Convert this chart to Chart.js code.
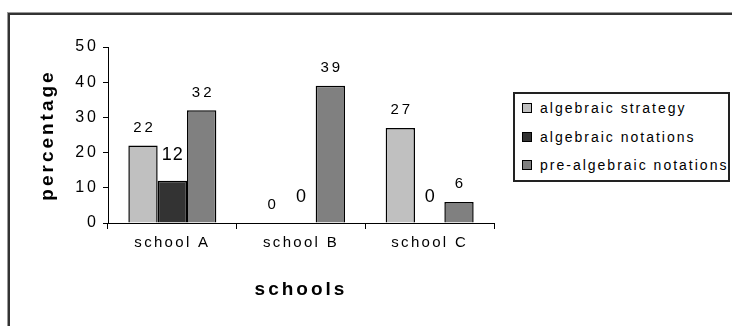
<!DOCTYPE html>
<html>
<head>
<meta charset="utf-8">
<script src="https://cdn.jsdelivr.net/npm/chart.js@4"></script>
<style>
  body { margin: 0; background: #fff; }
  #wrap { position: relative; width: 732px; height: 326px; overflow: hidden; background: #fff; }
  #frame {
    position: absolute; left: 8px; top: 13px; width: 800px; height: 400px;
    border: 2px solid #333; box-shadow: -1px -1px 0 #999;
  }
  canvas { position: absolute; left: 0; top: 0; }
  #legend {
    position: absolute; left: 513px; top: 92px; width: 213px; height: 86px;
    border: 2px solid #222; background: #fff;
    font-family: 'Liberation Sans', Arial, sans-serif; font-size: 14px;
    letter-spacing: 2px; color: #000;
  }
  #legend .item { height: 28.5px; display: flex; align-items: center; padding-left: 7px; white-space: nowrap; }
  #legend .box { width: 8px; height: 8px; border: 1px solid #000; margin-right: 8px; flex: none; }
</style>
</head>
<body>
<div id="wrap">
  <div id="frame"></div>
  <canvas id="chart" width="732" height="326"></canvas>
  <div id="legend"></div>
</div>
<script>
  // ---- data ----
  const schools = ['school A', 'school B', 'school C'];
  const seriesNames = ['algebraic strategy', 'algebraic notations', 'pre-algebraic notations'];
  const strategy = [22, 0, 27];
  const notations = [12, 0, 0];
  const preAlgebraic = [32, 39, 6];
  const yTicks = [0, 10, 20, 30, 40, 50];

  const colors = ['#c0c0c0', '#333333', '#808080'];
  const values = [strategy, notations, preAlgebraic];

  Chart.defaults.font.family = "'Liberation Sans', Arial, sans-serif";
  Chart.defaults.color = '#000';

  // value labels above the bars (the middle series sits a bit higher and larger, like the original)
  const labelStyle = [
    { size: 15, offset: 18, spacing: 3 },
    { size: 18, offset: 26, spacing: 1 },
    { size: 15, offset: 18, spacing: 3 }
  ];

  const valueLabels = {
    id: 'valueLabels',
    beforeDraw(chart) {
      chart.ctx.letterSpacing = '3px';   // titles + y ticks
    },
    afterDatasetsDraw(chart) {
      const ctx = chart.ctx;
      chart.data.datasets.forEach((ds, i) => {
        const st = labelStyle[i];
        chart.getDatasetMeta(i).data.forEach((bar, j) => {
          ctx.save();
          ctx.font = st.size + "px 'Liberation Sans', Arial, sans-serif";
          ctx.letterSpacing = st.spacing + 'px';
          ctx.fillStyle = '#000';
          ctx.textAlign = 'center';
          ctx.textBaseline = 'middle';
          ctx.fillText(String(ds.data[j]), bar.x + st.spacing / 2, bar.y - st.offset);
          ctx.restore();
        });
      });
      ctx.letterSpacing = '2.3px';       // x tick labels are drawn after this (ticks.z = 1)
    }
  };

  new Chart(document.getElementById('chart'), {
    type: 'bar',
    plugins: [valueLabels],
    data: {
      labels: schools,
      datasets: seriesNames.map((name, i) => ({
        label: name,
        data: values[i],
        backgroundColor: colors[i],
        borderColor: '#000',
        borderWidth: 1.5,
        borderSkipped: 'start',
        categoryPercentage: 0.684,
        barPercentage: 1
      }))
    },
    options: {
      responsive: false,
      animation: false,
      devicePixelRatio: 1,
      layout: { padding: { left: 32, top: 47, right: 238, bottom: 21 } },
      plugins: { legend: { display: false }, tooltip: { enabled: false } },
      scales: {
        x: {
          grid: { offset: true, drawOnChartArea: false, color: '#000', tickLength: 6, lineWidth: 1 },
          border: { color: '#000', width: 1 },
          ticks: { z: 1, color: '#000', font: { size: 15 }, padding: 5, maxRotation: 0 },
          title: { display: true, text: 'schools', color: '#000', font: { size: 19, weight: 'bold' } },
          afterFit(s) { s.height = 82; }
        },
        y: {
          min: 0,
          max: 50,
          afterBuildTicks(s) { s.ticks = yTicks.map(v => ({ value: v })); },
          ticks: { color: '#000', font: { size: 16 }, padding: 4 },
          grid: { drawOnChartArea: false, color: '#000', tickLength: 5 },
          border: { color: '#000', width: 1 },
          title: { display: true, text: 'percentage', color: '#000', font: { size: 19, weight: 'bold' } },
          afterFit(s) { s.width = 76; }
        }
      }
    }
  });

  // legend
  const legend = document.getElementById('legend');
  seriesNames.forEach((name, i) => {
    const row = document.createElement('div');
    row.className = 'item';
    const box = document.createElement('span');
    box.className = 'box';
    box.style.background = colors[i];
    row.appendChild(box);
    row.appendChild(document.createTextNode(name));
    legend.appendChild(row);
  });
</script>
</body>
</html>
